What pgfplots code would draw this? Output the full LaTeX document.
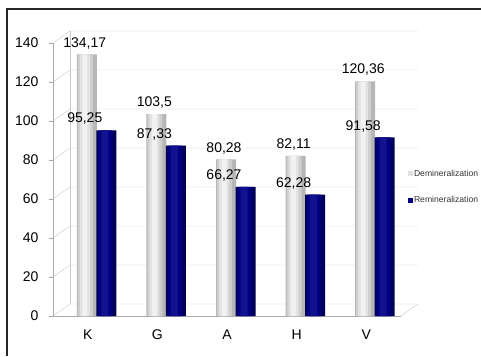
\documentclass[border=0pt]{standalone}
\usepackage{pgfplots}
\pgfplotsset{compat=1.18}
\usepackage{fontspec}
\setmainfont{Liberation Sans}
\definecolor{navyb}{RGB}{0,0,128}
\definecolor{navyd}{RGB}{0,0,88}
\definecolor{navyl}{RGB}{18,18,145}
\definecolor{g1}{RGB}{182,182,182}
\definecolor{g2}{RGB}{206,206,206}
\definecolor{g3}{RGB}{226,226,226}
\definecolor{g4}{RGB}{242,242,242}
\definecolor{gridc}{RGB}{200,200,200}
\definecolor{axc}{RGB}{170,170,170}
\pgfplotstableread{
x d r
0 134.17 95.25
1 103.5 87.33
2 80.28 66.27
3 82.11 62.28
4 120.36 91.58
}\datatab
\begin{document}
\begin{tikzpicture}[x=1pt,y=1pt]
\path[use as bounding box] (0,0) rectangle (481,356);
\draw[black!85, line width=1.2pt] (7,0) -- (7,347) -- (481,347);
\foreach \v in {0,20,...,140} { \draw[gridc] (49,{40+1.95*\v}) -- (53,{40+1.95*\v}) -- ++(17,12) -- ++(348,0); }
\draw[gridc] (70,52) -- (70,325);
\draw[gridc] (401,40) -- (418,52);
\begin{axis}[at={(53pt,40pt)}, anchor=south west, scale only axis,
  width=348pt, height=273pt,
  xmin=-0.5, xmax=4.5, ymin=0, ymax=140,
  ytick={0,20,...,140}, xtick={0,...,4}, xticklabels={K,G,A,H,V},
  minor xtick={-0.5,0.5,...,4.5},
  axis lines*=left, axis line style={axc},
  tick align=outside, major tick length=4pt, minor tick length=6pt,
  every tick/.style={axc}, x tick style={draw=none}, minor x tick style={axc},
  tick label style={font=\fontsize{14}{16}\selectfont, text=black},
  /pgf/number format/assume math mode=true,
  xticklabel style={yshift=-6pt, text height=10pt, text depth=0pt},
  yticklabel style={xshift=-7pt},
  clip=false,
  legend style={at={(1.011,0.4725)}, anchor=west, draw=none, fill=none,
    font=\fontsize{8.6}{10}\selectfont, row sep=15pt, text=black!80,
    nodes={inner xsep=1pt}},
  legend cell align=left,
  nodes near coords style={font=\fontsize{14}{16}\selectfont, text=black,
    /pgf/number format/assume math mode=true, /pgf/number format/use comma,
    yshift=2pt, xshift=-3pt},
]
\addplot[ybar, bar width=20pt, bar shift=-1pt, draw=none, fill=g1,
  legend image code/.code={\fill[g3] (0pt,-2.5pt) rectangle (5pt,2.5pt);}]
  table[x=x,y=d] {\datatab};
\addlegendentry{Demineralization}
\addplot[ybar, bar width=20pt, bar shift=18.5pt, draw=none, fill=navyd,
  legend image code/.code={\fill[navyb] (0pt,-2.5pt) rectangle (5pt,2.5pt);}]
  table[x=x,y=r] {\datatab};
\addlegendentry{Remineralization}
% cylinder-like highlights
\addplot[forget plot, ybar, bar width=15pt, bar shift=-2.5pt, draw=none, fill=g2] table[x=x,y=d] {\datatab};
\addplot[forget plot, ybar, bar width=10pt, bar shift=-3pt, draw=none, fill=g3] table[x=x,y=d] {\datatab};
\addplot[forget plot, ybar, bar width=5pt, bar shift=-3pt, draw=none, fill=g4] table[x=x,y=d] {\datatab};
\addplot[forget plot, ybar, bar width=14pt, bar shift=17.5pt, draw=none, fill=navyb] table[x=x,y=r] {\datatab};
\addplot[forget plot, ybar, bar width=7pt, bar shift=17pt, draw=none, fill=navyl] table[x=x,y=r] {\datatab};
% value labels
\addplot[forget plot, ybar, bar width=20pt, bar shift=-1pt, draw=none, fill=none,
  nodes near coords] table[x=x,y=d] {\datatab};
\addplot[forget plot, ybar, bar width=20pt, bar shift=18.5pt, draw=none, fill=none,
  nodes near coords] table[x=x,y=r] {\datatab};
\end{axis}
\end{tikzpicture}
\end{document}
